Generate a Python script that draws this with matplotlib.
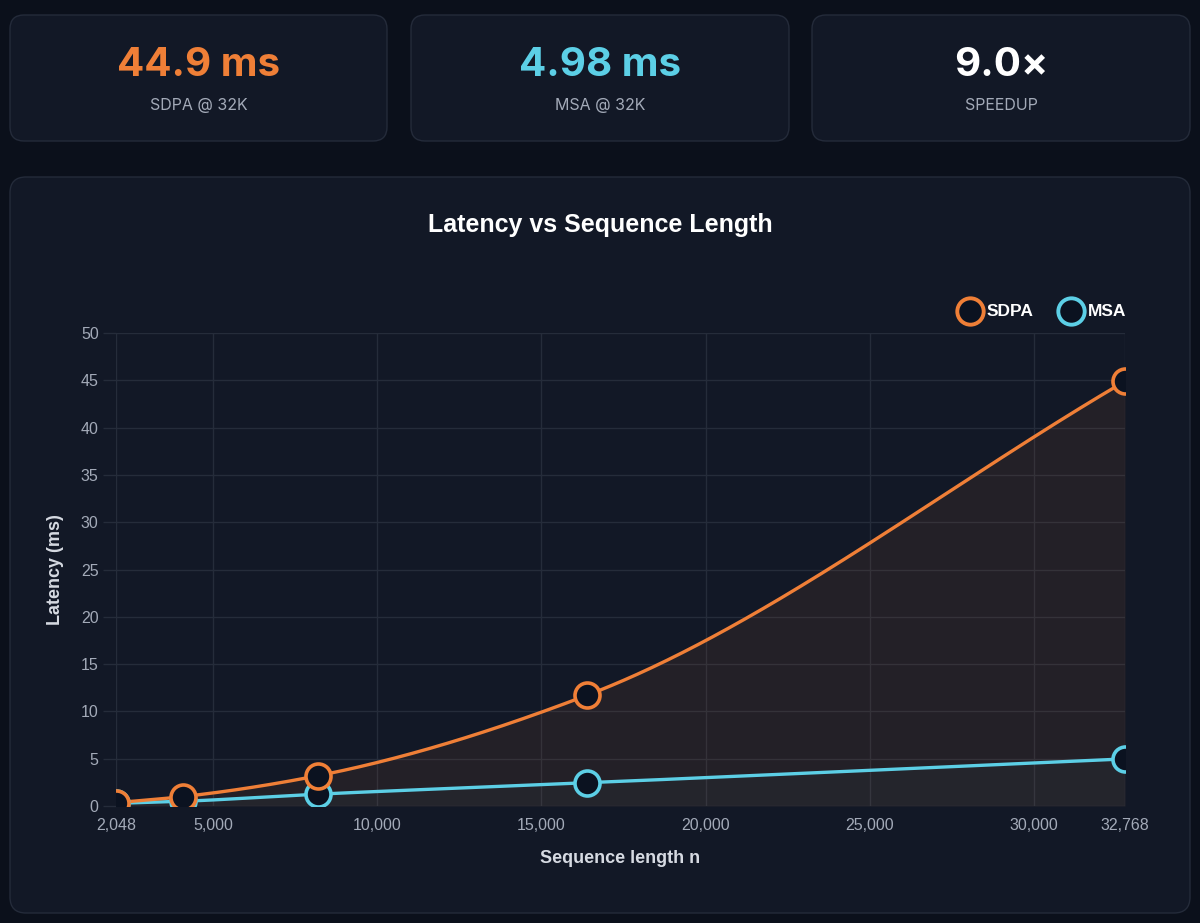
import numpy as np
import matplotlib
matplotlib.use("Agg")
import matplotlib.pyplot as plt
from matplotlib.patches import FancyBboxPatch
from matplotlib.ticker import FixedLocator, FuncFormatter

plt.rcParams['font.family'] = ['Liberation Sans', 'DejaVu Sans']

# ---- data ----
seq_len = [2048, 4096, 8192, 16384, 32768]
sdpa_ms = [0.35, 1.0, 3.2, 11.7, 44.9]
msa_ms = [0.28, 0.5, 1.25, 2.45, 4.98]
series_names = ["SDPA", "MSA"]
x_ticks = [2048, 5000, 10000, 15000, 20000, 25000, 30000, 32768]
y_ticks = [0, 5, 10, 15, 20, 25, 30, 35, 40, 45, 50]
card_values = ["44.9 ms", "4.98 ms", "9.0×"]
card_labels = ["SDPA @ 32K", "MSA @ 32K", "SPEEDUP"]

# ---- style ----
W, H = 1200, 923
BG = "#0b101b"
PANEL = "#121826"
BORDER = "#242b3a"
ORANGE = "#ef7f37"
BLUE = "#5ccfe6"
WHITE = "#ffffff"
TICK = "#a3aab8"
GRID = "#252c3a"
card_colors = [ORANGE, BLUE, WHITE]

fig = plt.figure(figsize=(W / 100, H / 100), dpi=100, facecolor=BG)
bg = fig.add_axes([0, 0, 1, 1])
bg.set_xlim(0, W)
bg.set_ylim(H, 0)
bg.axis("off")
bg.set_facecolor(BG)

def rbox(x0, y0, x1, y1, r=14):
    p = FancyBboxPatch((x0 + r, y0 + r), (x1 - x0) - 2 * r, (y1 - y0) - 2 * r,
                       boxstyle=f"round,pad={r},rounding_size={r}",
                       facecolor=PANEL, edgecolor=BORDER, linewidth=1.0)
    bg.add_patch(p)

cards = [(10, 15, 387, 141), (411, 15, 789, 141), (812, 15, 1190, 141)]
for (x0, y0, x1, y1), v, lab, c in zip(cards, card_values, card_labels, card_colors):
    rbox(x0, y0, x1, y1)
    cx = (x0 + x1) / 2
    bg.text(cx, 65, v, color=c, fontsize=29, fontweight="bold", ha="center", va="center",
            family=["Inter", "Liberation Sans", "DejaVu Sans"])
    bg.text(cx, 105, lab.upper(), color=TICK, fontsize=11.5, ha="center", va="center",
            family=["Inter", "Liberation Sans", "DejaVu Sans"])

rbox(10, 177, 1190, 913, r=16)
bg.text(600, 225, "Latency vs Sequence Length", color=WHITE, fontsize=18,
        fontweight="bold", ha="center", va="center")

# legend (manual in pixel coords)
for (lx, name, col) in [(970, "SDPA", ORANGE), (1071, "MSA", BLUE)]:
    bg.plot([lx], [311], marker="o", markersize=19, markerfacecolor="#0b1220",
            markeredgecolor=col, markeredgewidth=2.8)
    bg.text(lx + 17, 311, name, color=WHITE, fontsize=12.5, fontweight="bold",
            ha="left", va="center")

# ---- plot axes ----
L, R, T, B = 116, 1125, 333, 806
ax = fig.add_axes([L / W, 1 - B / H, (R - L) / W, (B - T) / H])
ax.set_facecolor("none")
ax.set_xlim(seq_len[0], seq_len[-1])
ax.set_ylim(0, 50)

def pchip(x, y, n=400):
    x = np.asarray(x, float); y = np.asarray(y, float)
    h = np.diff(x); d = np.diff(y) / h
    m = np.zeros_like(y)
    m[0] = d[0]; m[-1] = d[-1]
    for i in range(1, len(x) - 1):
        if d[i - 1] * d[i] <= 0:
            m[i] = 0
        else:
            w1 = 2 * h[i] + h[i - 1]; w2 = h[i] + 2 * h[i - 1]
            m[i] = (w1 + w2) / (w1 / d[i - 1] + w2 / d[i])
    xs = np.linspace(x[0], x[-1], n)
    ys = np.empty_like(xs)
    for j, xv in enumerate(xs):
        i = min(np.searchsorted(x, xv, side="right") - 1, len(x) - 2)
        t = (xv - x[i]) / h[i]
        h00 = 2 * t**3 - 3 * t**2 + 1; h10 = t**3 - 2 * t**2 + t
        h01 = -2 * t**3 + 3 * t**2; h11 = t**3 - t**2
        ys[j] = h00 * y[i] + h10 * h[i] * m[i] + h01 * y[i + 1] + h11 * h[i] * m[i + 1]
    return xs, ys

for ys, col, fa in [(sdpa_ms, ORANGE, 0.08), (msa_ms, BLUE, 0.03)]:
    sx, sy = pchip(seq_len, ys)
    ax.fill_between(sx, 0, sy, color=col, alpha=fa, linewidth=0, zorder=1)
for ys, col in [(msa_ms, BLUE), (sdpa_ms, ORANGE)]:
    sx, sy = pchip(seq_len, ys)
    ax.plot(sx, sy, color=col, linewidth=2.4, zorder=3, solid_capstyle="round")
    ax.plot(seq_len, ys, linestyle="none", marker="o", markersize=18,
            markerfacecolor="#0b1220", markeredgecolor=col, markeredgewidth=2.6,
            zorder=4, clip_on=True)

ax.xaxis.set_major_locator(FixedLocator(x_ticks))
ax.xaxis.set_major_formatter(FuncFormatter(lambda v, p: f"{int(round(v)):,}"))
ax.yaxis.set_major_locator(FixedLocator(y_ticks))
ax.grid(True, color=GRID, linewidth=1.0, zorder=0)
ax.set_axisbelow(True)
for s in ax.spines.values():
    s.set_visible(False)
ax.tick_params(colors=TICK, labelsize=11.5, length=0, pad=9)
ax.tick_params(axis="y", length=9.5, width=1.0, color=GRID, pad=3)
ax.set_xlabel("Sequence length n", color="#d6dae2", fontsize=13, fontweight="bold", labelpad=12)
ax.set_ylabel("Latency (ms)", color="#d6dae2", fontsize=13, fontweight="bold", labelpad=12)

fig.savefig("out.png", dpi=100, facecolor=BG)
